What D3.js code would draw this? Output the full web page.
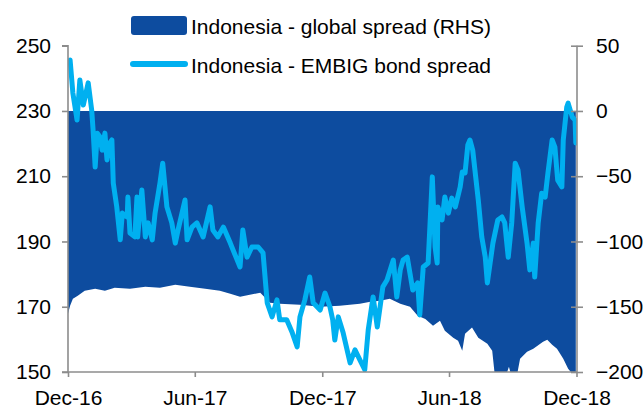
<!DOCTYPE html>
<html><head><meta charset="utf-8">
<script src="https://cdn.jsdelivr.net/npm/d3@7/dist/d3.min.js"></script>
<style>body{margin:0;background:#fff}svg{display:block}text{font-family:Arial,"Liberation Sans",sans-serif;fill:#000}</style>
</head><body>
<svg id="c" width="644" height="412"></svg>
<script>
// Days since 1 Dec 2016 and values
const startDate = new Date(2016, 11, 1);
const xTickDates = ["2016-12-01","2017-06-01","2017-12-01","2018-06-01","2018-12-01"];
const xTickLabels = ["Dec-16","Jun-17","Dec-17","Jun-18","Dec-18"];
const leftTicks = [150,170,190,210,230,250];
const rightTicks = [-200,-150,-100,-50,0,50];

// Indonesia - EMBIG bond spread (LHS)
const embigDays = [0,3,7,13,17,22,29,34,36,39,42,46,49,53,56,60,63,65,70,75,78,85,86,89,96,99,100,106,111,115,121,125,132,136,142,149,154,158,168,171,178,185,194,204,208,215,223,233,240,247,251,257,264,273,280,286,293,300,304,314,322,329,333,340,347,352,362,369,376,380,383,388,395,405,412,419,426,431,438,444,452,458,467,472,477,481,487,495,502,505,510,517,523,527,530,531,537,541,546,551,556,563,566,570,574,577,581,589,594,599,602,606,610,617,623,627,632,637,642,646,652,659,663,668,670,675,680,685,689,695,699,703,709,711,716,718,724,728,729];
const embigValues = [245.0,245.6,235.5,227.2,239.5,231.8,238.6,230.3,224.2,212.8,223.2,222.0,218.0,223.2,215.0,220.2,221.1,207.9,200.6,190.5,198.7,197.5,203.6,192.6,191.4,203.6,191.4,205.8,191.4,195.7,190.5,198.7,207.9,214.0,200.6,195.7,189.5,193.5,202.7,190.5,194.4,195.7,191.4,200.6,193.5,191.4,194.4,189.5,185.8,182.2,193.5,185.2,188.3,188.3,186.5,171.2,166.9,172.1,166.0,166.0,162.0,157.7,166.9,172.1,179.1,171.2,169.0,174.2,170.0,166.0,159.8,166.9,162.0,152.8,156.8,153.7,150.7,162.9,173.0,163.8,176.1,178.2,184.3,173.0,181.3,184.3,185.2,175.1,177.3,167.5,182.2,183.4,209.8,188.3,183.4,200.6,196.6,203.6,198.7,203.3,200.6,206.7,211.3,211.0,219.6,221.1,218.0,202.7,191.4,185.2,177.3,183.4,189.5,196.6,197.5,195.7,185.2,195.7,214.0,211.9,200.6,189.5,181.3,189.5,179.1,195.7,204.8,203.6,211.0,221.1,218.9,208.8,206.7,221.1,231.2,232.4,228.1,227.2,220.2];

// Indonesia - global spread (RHS)
const globalDays = [0,3,7,14,24,39,53,67,89,111,132,154,175,197,218,233,247,261,276,283,290,304,333,362,390,419,434,448,462,477,491,502,513,524,534,541,553,560,566,570,580,589,602,609,613,628,633,637,644,649,659,668,682,688,695,702,711,718,725,729];
const globalValues = [-155.3,-149.2,-143.8,-141.5,-137.7,-136.2,-137.7,-135.4,-136.2,-134.6,-135.4,-133.1,-134.6,-136.2,-137.7,-140.0,-142.3,-140.8,-139.2,-143.1,-146.9,-147.7,-148.4,-150.0,-149.2,-147.7,-146.1,-145.4,-143.8,-147.7,-150.0,-156.9,-159.3,-164.6,-160.7,-168.4,-173.7,-176.0,-183.7,-170.7,-166.0,-173.7,-178.3,-183.7,-204,-204,-196,-204,-204,-189.8,-184.4,-182.1,-176.8,-175.2,-179.1,-182.1,-189.8,-197.5,-202,-204];

const dayToDate = d => d3.timeDay.offset(startDate, d);
const embig = embigDays.map((d,i)=>({date:dayToDate(d), v:embigValues[i]}));
const glob = globalDays.map((d,i)=>({date:dayToDate(d), v:globalValues[i]}));

const svg = d3.select("#c");
const L = 68, R = 577, T = 45.7, B = 372;
const x = d3.scaleTime().domain([new Date(2016,11,1), new Date(2018,11,1)]).range([L, R-0.5]);
const yL = d3.scaleLinear().domain([150,250]).range([B,T]);
const yR = d3.scaleLinear().domain([-200,50]).range([B,T]);

svg.append("defs").append("clipPath").attr("id","clip")
  .append("rect").attr("x",L).attr("y",T).attr("width",R-L).attr("height",B-T);

const darkBlue = "#0D4C9F", lightBlue = "#00B0F0", axisGray = "#8C8C8C";

svg.append("path").datum(glob).attr("clip-path","url(#clip)")
  .attr("fill", darkBlue)
  .attr("d", d3.area().x(d=>x(d.date)).y0(yR(0)).y1(d=>yR(d.v)));

svg.append("path").datum(embig).attr("clip-path","url(#clip)")
  .attr("fill","none").attr("stroke", lightBlue).attr("stroke-width",5)
  .attr("stroke-linejoin","round").attr("stroke-linecap","round")
  .attr("d", d3.line().x(d=>x(d.date)).y(d=>yL(d.v)));

// axes
const fs = 21;
const gL = svg.append("g").attr("transform",`translate(${L},0)`)
  .call(d3.axisLeft(yL).tickValues(leftTicks).tickSize(6).tickPadding(11).tickFormat(d3.format("d")));
const gR = svg.append("g").attr("transform",`translate(${R},0)`)
  .call(d3.axisRight(yR).tickValues(rightTicks).tickSize(6).tickPadding(13).tickFormat(d3.format("d")));
gR.selectAll(".tick line").attr("x1",-6);
const parse = d3.timeParse("%Y-%m-%d");
const gB = svg.append("g").attr("transform",`translate(0,${B})`)
  .call(d3.axisBottom(x).tickValues(xTickDates.map(parse)).tickSize(5).tickPadding(13)
    .tickFormat((d,i)=>xTickLabels[i]));
[gL,gR,gB].forEach(g=>{
  g.select(".domain").attr("stroke",axisGray).attr("stroke-width",1.6);
  g.selectAll(".tick line").attr("stroke",axisGray).attr("stroke-width",1.6);
  g.selectAll(".tick text").attr("font-size",fs).attr("font-family","Arial, 'Liberation Sans', sans-serif").attr("fill","#000");
});
gL.select(".domain").attr("d",`M-6,${T}H0V${B}H-6`);
gR.select(".domain").attr("d",`M0,${T}V${B}`);
gB.select(".domain").attr("d",`M${L},0H${R}`);

// legend
const lg = svg.append("g");
lg.append("rect").attr("x",131).attr("y",16).attr("width",56).attr("height",19).attr("rx",3).attr("fill",darkBlue);
lg.append("line").attr("x1",133).attr("x2",185).attr("y1",64).attr("y2",64).attr("stroke",lightBlue).attr("stroke-width",6).attr("stroke-linecap","round");
lg.append("text").attr("x",191).attr("y",34).attr("font-size",fs).text("Indonesia - global spread (RHS)");
lg.append("text").attr("x",191).attr("y",73).attr("font-size",fs).text("Indonesia - EMBIG bond spread");
</script>
</body></html>
